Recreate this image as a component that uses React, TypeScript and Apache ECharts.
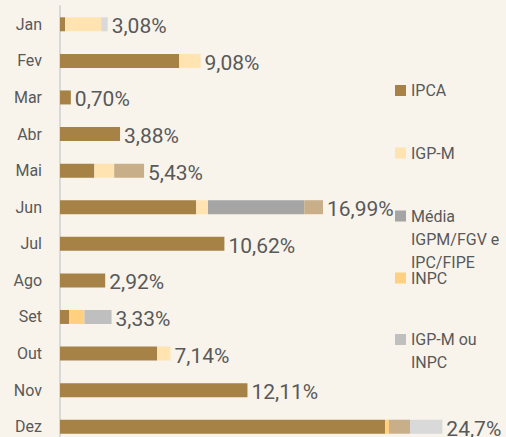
import React, { useEffect, useRef } from "react";
import * as echarts from "echarts";

const months = ["Jan", "Fev", "Mar", "Abr", "Mai", "Jun", "Jul", "Ago", "Set", "Out", "Nov", "Dez"];
const ipca = [0.33, 7.7, 0.7, 3.88, 2.22, 8.8, 10.62, 2.92, 0.6, 6.27, 12.11, 21.0];
const igpm = [2.33, 1.38, 0, 0, 1.28, 0.76, 0, 0, 0, 0.87, 0, 0];
const media = [0, 0, 0, 0, 0, 6.22, 0, 0, 0, 0, 0, 0];
const inpc = [0, 0, 0, 0, 0, 0, 0, 0, 0.98, 0, 0, 0.25];
const igpmOuInpc = [0, 0, 0, 0, 0, 0, 0, 0, 1.75, 0, 0, 0];
const outros = [0, 0, 0, 0, 1.93, 1.21, 0, 0, 0, 0, 0, 1.36];
const outros2 = [0.42, 0, 0, 0, 0, 0, 0, 0, 0, 0, 0, 2.09];
const totalLabels = ["3,08%", "9,08%", "0,70%", "3,88%", "5,43%", "16,99%", "10,62%", "2,92%", "3,33%", "7,14%", "12,11%", "24,7%"];

const seriesDefs = [
  { name: "IPCA", data: ipca, color: "#A68246" },
  { name: "IGP-M", data: igpm, color: "#FFE3B1" },
  { name: "Média IGPM/FGV e IPC/FIPE", data: media, color: "#A5A5A5" },
  { name: "INPC", data: inpc, color: "#FFD07F" },
  { name: "IGP-M ou INPC", data: igpmOuInpc, color: "#BFBFBF" },
  { name: "Outros", data: outros, color: "#C8AF89" },
  { name: "Outros índices", data: outros2, color: "#D9D9D9" },
];

const TEXT = "#595959";

export default function App() {
  const ref = useRef<HTMLDivElement>(null);
  useEffect(() => {
    document.body.style.margin = "0";
    const chart = echarts.init(ref.current!, undefined, { renderer: "svg" });
    const totals = months.map((_, i) => seriesDefs.reduce((s, d) => s + d.data[i], 0));
    const legendBase = {
      orient: "vertical" as const,
      left: 395,
      itemWidth: 11,
      itemHeight: 11,
      itemGap: 0,
      padding: 0,
      selectedMode: false,
      icon: "rect",
    };
    const legendText = { fontSize: 16, color: TEXT, fontFamily: "Roboto", lineHeight: 23 };
    chart.setOption({
      animation: false,
      backgroundColor: "#F8F4EC",
      grid: { left: 60, top: 6, width: 15.48 * 28, height: 439, outerBoundsMode: "none", containLabel: false },
      xAxis: { type: "value", min: 0, max: 28, show: false },
      yAxis: {
        type: "category",
        data: months,
        inverse: true,
        axisLine: { show: true, lineStyle: { color: "#D9D9D9", width: 2 } },
        axisTick: { show: false },
        axisLabel: { color: TEXT, fontSize: 16, fontFamily: "Roboto", margin: 18 },
      },
      legend: [
        { ...legendBase, top: 79, data: ["IPCA"], textStyle: legendText },
        { ...legendBase, top: 141.5, data: ["IGP-M"], textStyle: legendText },
        {
          ...legendBase,
          top: 158.5,
          data: ["Média IGPM/FGV e IPC/FIPE"],
          formatter: () => " \n \nMédia\nIGPM/FGV e\nIPC/FIPE",
          textStyle: legendText,
        },
        { ...legendBase, top: 266.5, data: ["INPC"], textStyle: legendText },
        {
          ...legendBase,
          top: 305,
          data: ["IGP-M ou INPC"],
          formatter: () => " \nIGP-M ou\nINPC",
          textStyle: legendText,
        },
      ],
      series: [
        ...seriesDefs.map((d) => ({
          type: "bar",
          name: d.name,
          stack: "total",
          data: d.data,
          barWidth: 14,
          itemStyle: { color: d.color },
          silent: true,
        })),
        {
          type: "bar",
          name: "Total",
          data: totals,
          barWidth: 14,
          barGap: "-100%",
          itemStyle: { color: "rgba(0,0,0,0)" },
          silent: true,
          z: 5,
          label: {
            show: true,
            position: "right",
            distance: 4,
            offset: [0, 2],
            color: TEXT,
            fontSize: 21,
            fontFamily: "Roboto",
            formatter: (p: any) => totalLabels[p.dataIndex],
          },
        },
      ],
    });
    return () => chart.dispose();
  }, []);
  return <div ref={ref} style={{ width: 506, height: 437 }} />;
}
